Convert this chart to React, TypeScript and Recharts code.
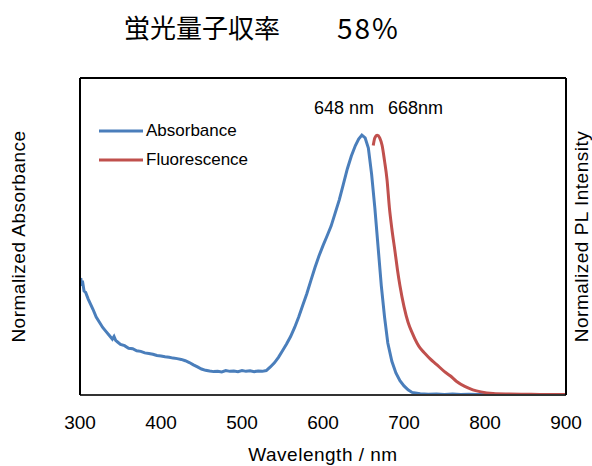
import {
  LineChart,
  Line,
  XAxis,
  YAxis,
  Legend,
  Label,
} from "recharts";

// Absorbance spectrum (normalized)
const absWavelengths = [
  300, 301, 302, 303, 305, 307, 310, 313, 316, 320, 324, 328, 332, 336, 340, 342, 344,
  346, 350, 355, 360, 365, 370, 375, 380, 385, 390, 395, 400, 405, 410, 415,
  420, 425, 430, 435, 440, 445, 450, 455, 460, 465, 470, 475, 480, 485, 490,
  495, 500, 505, 510, 515, 520, 525, 530, 535, 540, 545, 550, 555, 560, 565,
  570, 575, 580, 585, 590, 595, 600, 605, 610, 615, 620, 625, 630, 635, 640,
  644, 648, 652, 656, 660, 664, 668, 672, 676, 680, 685, 690, 695, 700, 705,
  710, 720, 730, 740, 750, 760, 770, 780, 790, 800,
];
const absValues = [
  0.43, 0.45, 0.42, 0.44, 0.40, 0.395, 0.37, 0.35, 0.33, 0.30, 0.28, 0.26, 0.245, 0.23, 0.215, 0.225, 0.21,
  0.205, 0.195, 0.19, 0.18, 0.178, 0.17, 0.168, 0.162, 0.16, 0.157, 0.152, 0.15, 0.147, 0.145, 0.142,
  0.14, 0.137, 0.132, 0.125, 0.116, 0.108, 0.1, 0.095, 0.092, 0.09, 0.091, 0.089, 0.094, 0.091, 0.092,
  0.09, 0.094, 0.091, 0.093, 0.09, 0.092, 0.091, 0.094, 0.108, 0.124, 0.145, 0.17, 0.196, 0.225, 0.26,
  0.3, 0.345, 0.39, 0.44, 0.49, 0.535, 0.575, 0.612, 0.65, 0.7, 0.75, 0.81, 0.87, 0.92, 0.96,
  0.985, 1.0, 0.99, 0.95, 0.85, 0.72, 0.57, 0.42, 0.3, 0.2, 0.13, 0.085, 0.055, 0.035, 0.02,
  0.01, 0.005, 0.003, 0.004, 0.002, 0.004, 0.002, 0.003, 0.002, 0.002,
];

// Fluorescence (PL) spectrum (normalized)
const flWavelengths = [
  662, 664, 667, 670, 673, 676, 679, 682, 685, 689, 692, 695, 700, 705, 710,
  716, 720, 725, 732, 740, 750, 757, 765, 775, 785, 795, 810, 830, 850, 875, 900,
];
const flValues = [
  0.96, 0.99, 1.0, 0.99, 0.96, 0.9, 0.83, 0.72, 0.64, 0.55, 0.48, 0.42, 0.34, 0.28, 0.24,
  0.2, 0.18, 0.163, 0.14, 0.118, 0.09, 0.074, 0.052, 0.033, 0.02, 0.012, 0.006, 0.004, 0.003, 0.002, 0.002,
];

const xTicks = [300, 400, 500, 600, 700, 800, 900];

const absData = absWavelengths.map((nm, i) => ({ nm, v: absValues[i] }));
const flData = flWavelengths.map((nm, i) => ({ nm, v: flValues[i] }));

const FONT = "'Liberation Sans', Arial, sans-serif";
const axisLabelStyle = {
  fontSize: 19,
  fill: "#000",
  fontFamily: FONT,
  letterSpacing: "0.5px",
};

function LegendBox({ payload }: any) {
  return (
    <div style={{ fontFamily: FONT, fontSize: 17, color: "#000" }}>
      {(payload || []).map((item: any) => (
        <div
          key={item.value}
          style={{ display: "flex", alignItems: "center", height: 29 }}
        >
          <svg width={44} height={4} style={{ marginRight: 3 }}>
            <line x1={0} y1={2} x2={44} y2={2} stroke={item.color} strokeWidth={3} />
          </svg>
          <span>{item.value}</span>
        </div>
      ))}
    </div>
  );
}

export default function App() {
  return (
    <div style={{ position: "relative", width: 592, height: 466, background: "#fff" }}>
      <style>{"body{margin:0}"}</style>
      <div
        style={{
          position: "absolute",
          left: 124,
          top: 12,
          fontFamily: "'Noto Sans CJK JP', sans-serif",
          fontSize: 26,
          lineHeight: "30px",
          color: "#000",
        }}
      >
        蛍光量子収率
      </div>
      <div
        style={{
          position: "absolute",
          left: 337,
          top: 12,
          fontFamily: "'Noto Sans CJK JP', sans-serif",
          fontSize: 28,
          letterSpacing: "2px",
          lineHeight: "30px",
          color: "#000",
        }}
      >
        58%
      </div>
      <div
        style={{
          position: "absolute",
          left: 314,
          top: 97,
          fontFamily: FONT,
          fontSize: 18,
          lineHeight: "22px",
          color: "#000",
        }}
      >
        648 nm
      </div>
      <div
        style={{
          position: "absolute",
          left: 388,
          top: 97,
          fontFamily: FONT,
          fontSize: 18,
          lineHeight: "22px",
          color: "#000",
        }}
      >
        668nm
      </div>
      <LineChart
        width={592}
        height={466}
        margin={{ top: 77, right: 25, bottom: 26, left: 79 }}
      >
        <XAxis
          dataKey="nm"
          type="number"
          domain={[300, 900]}
          ticks={xTicks}
          allowDataOverflow
          height={45}
          tickLine={false}
          tickMargin={15}
          axisLine={{ stroke: "#333", strokeWidth: 2 }}
          tick={{ fontSize: 19, fill: "#000", fontFamily: FONT }}
          interval={0}
        >
          <Label value="Wavelength / nm" position="bottom" offset={8} style={axisLabelStyle} />
        </XAxis>
        <XAxis
          xAxisId="top"
          dataKey="nm"
          type="number"
          domain={[300, 900]}
          orientation="top"
          height={1}
          tick={false}
          tickLine={false}
          axisLine={{ stroke: "#000", strokeWidth: 2 }}
        />
        <YAxis
          yAxisId="left"
          type="number"
          domain={[0, 1.22]}
          width={1}
          tick={false}
          tickLine={false}
          axisLine={{ stroke: "#000", strokeWidth: 2 }}
        >
          <Label
            value="Normalized Absorbance"
            angle={-90}
            position="left"
            offset={61}
            style={{ ...axisLabelStyle, textAnchor: "middle" }}
          />
        </YAxis>
        <YAxis
          yAxisId="right"
          orientation="right"
          type="number"
          domain={[0, 1.22]}
          width={1}
          tick={false}
          tickLine={false}
          axisLine={{ stroke: "#000", strokeWidth: 2 }}
        >
          <Label
            value="Normalized PL Intensity"
            angle={-90}
            position="right"
            offset={14}
            style={{ ...axisLabelStyle, textAnchor: "middle" }}
          />
        </YAxis>
        <Legend
          layout="horizontal"
          verticalAlign="middle"
          align="center"
          content={<LegendBox />}
          wrapperStyle={{ left: 99, top: 116, width: 200 }}
        />
        <Line
          yAxisId="left"
          data={absData}
          dataKey="v"
          name="Absorbance"
          type="linear"
          stroke="#4a7ebb"
          strokeWidth={3}
          dot={false}
          isAnimationActive={false}
        />
        <Line
          yAxisId="right"
          data={flData}
          dataKey="v"
          name="Fluorescence"
          type="monotone"
          stroke="#c0504d"
          strokeWidth={3}
          dot={false}
          isAnimationActive={false}
        />
      </LineChart>
    </div>
  );
}
